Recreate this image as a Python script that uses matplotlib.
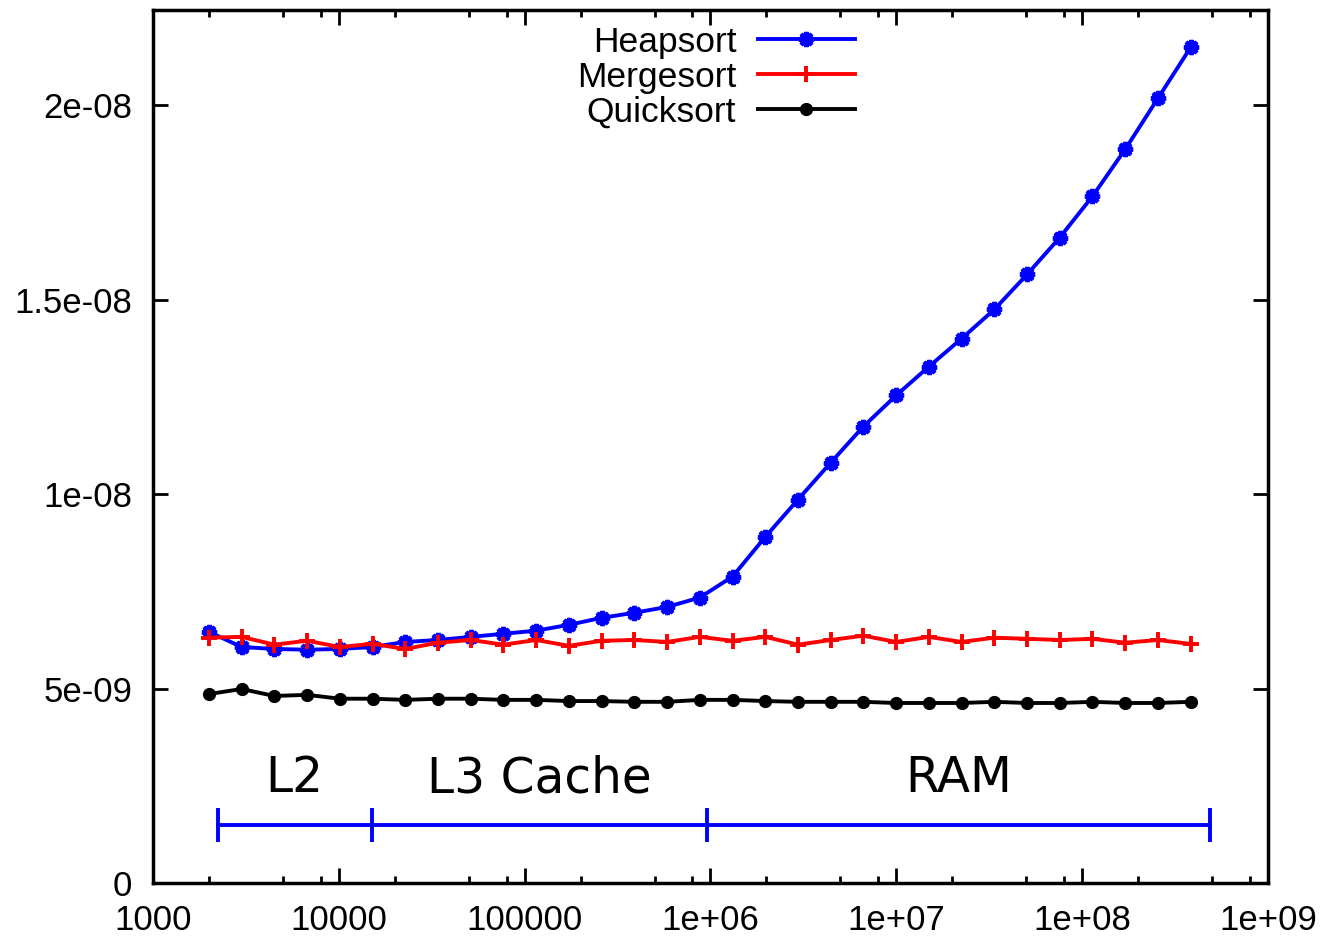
import numpy as np
import matplotlib
matplotlib.use("Agg")
import matplotlib.pyplot as plt
from matplotlib.ticker import FixedLocator, FixedFormatter

# Array sizes (x axis), growth factor 1.5
sizes = [2000 * 1.5 ** k for k in range(31)]

# Time per element (seconds)
heapsort = [6.46, 6.07, 6.02, 6.00, 6.02, 6.07, 6.20, 6.25, 6.33, 6.41,
            6.49, 6.64, 6.82, 6.95, 7.10, 7.34, 7.88, 8.90, 9.86, 10.81,
            11.74, 12.54, 13.28, 14.00, 14.75, 15.65, 16.60, 17.66, 18.87, 20.18,
            21.49]
mergesort = [6.31, 6.33, 6.13, 6.23, 6.07, 6.15, 6.02, 6.18, 6.25, 6.13,
             6.25, 6.10, 6.23, 6.25, 6.20, 6.33, 6.23, 6.33, 6.13, 6.25,
             6.36, 6.20, 6.33, 6.20, 6.31, 6.28, 6.25, 6.28, 6.18, 6.25,
             6.15]
quicksort = [4.86, 4.99, 4.81, 4.84, 4.74, 4.74, 4.71, 4.74, 4.74, 4.71,
             4.71, 4.68, 4.68, 4.66, 4.66, 4.71, 4.71, 4.68, 4.66, 4.66,
             4.66, 4.63, 4.63, 4.63, 4.66, 4.63, 4.63, 4.66, 4.63, 4.63,
             4.66]
heapsort = np.array(heapsort) * 1e-9
mergesort = np.array(mergesort) * 1e-9
quicksort = np.array(quicksort) * 1e-9

# Memory hierarchy boundaries
cache_bounds = [2230, 15000, 960000, 4.9e8]
cache_level_y = 1.5e-9
cache_names = ["L2", "L3 Cache", "RAM"]

xticks = [1e3, 1e4, 1e5, 1e6, 1e7, 1e8, 1e9]
xtick_labels = ["1000", "10000", "100000", "1e+06", "1e+07", "1e+08", "1e+09"]
yticks = [0, 5e-9, 1e-8, 1.5e-8, 2e-8]
ytick_labels = ["0", "5e-09", "1e-08", "1.5e-08", "2e-08"]

plt.rcParams['font.family'] = ['Liberation Sans', 'DejaVu Sans']

fig = plt.figure(figsize=(13.3, 9.38), dpi=100)
ax = fig.add_axes([0.115, 0.0586, 0.8384, 0.9307])

ax.plot(sizes, heapsort, color='#0000ff', lw=2.8, marker=(8, 2, 0), ms=11, mew=3,
        label='Heapsort')
ax.plot(sizes, mergesort, color='#ff0000', lw=2.8, marker='+', ms=12, mew=2.8,
        label='Mergesort')
ax.plot(sizes, quicksort, color='black', lw=2.8, marker='o', ms=8.5,
        label='Quicksort')

# cache level bar
ax.plot([cache_bounds[0], cache_bounds[-1]], [cache_level_y] * 2, color='#0000ff', lw=2.8)
ax.plot(cache_bounds, [cache_level_y] * len(cache_bounds), ls='none', marker='|',
        color='#0000ff', ms=25, mew=2.8)
for i, name in enumerate(cache_names):
    xm = np.sqrt(cache_bounds[i] * cache_bounds[i + 1])
    ax.text(xm, 2.7e-9, name, ha='center', va='center', fontsize=35,
            family='DejaVu Sans')

ax.set_xscale('log')
ax.set_xlim(1e3, 1e9)
ax.set_ylim(0, 2.245e-8)

ax.xaxis.set_major_locator(FixedLocator(xticks))
ax.xaxis.set_major_formatter(FixedFormatter(xtick_labels))
minor = [d * m for d in [1e3, 1e4, 1e5, 1e6, 1e7, 1e8] for m in (2, 5, 8)]
ax.xaxis.set_minor_locator(FixedLocator(minor))
ax.xaxis.set_minor_formatter(FixedFormatter([''] * len(minor)))
ax.yaxis.set_major_locator(FixedLocator(yticks))
ax.yaxis.set_major_formatter(FixedFormatter(ytick_labels))

ax.tick_params(which='both', direction='in', top=True, right=True, labelsize=25, width=2)
ax.tick_params(which='major', length=11)
ax.tick_params(which='minor', length=5)
ax.tick_params(axis='x', which='major', pad=15)
ax.tick_params(axis='y', which='major', pad=15)
for s in ax.spines.values():
    s.set_linewidth(2.5)

ax.legend(loc='upper right', bbox_to_anchor=(0.6296, 0.982), frameon=False, fontsize=25.5,
          markerfirst=False, handlelength=2.75, handletextpad=0.6, labelspacing=0.055,
          borderaxespad=0, borderpad=0)

fig.savefig('out.png', dpi=100)
